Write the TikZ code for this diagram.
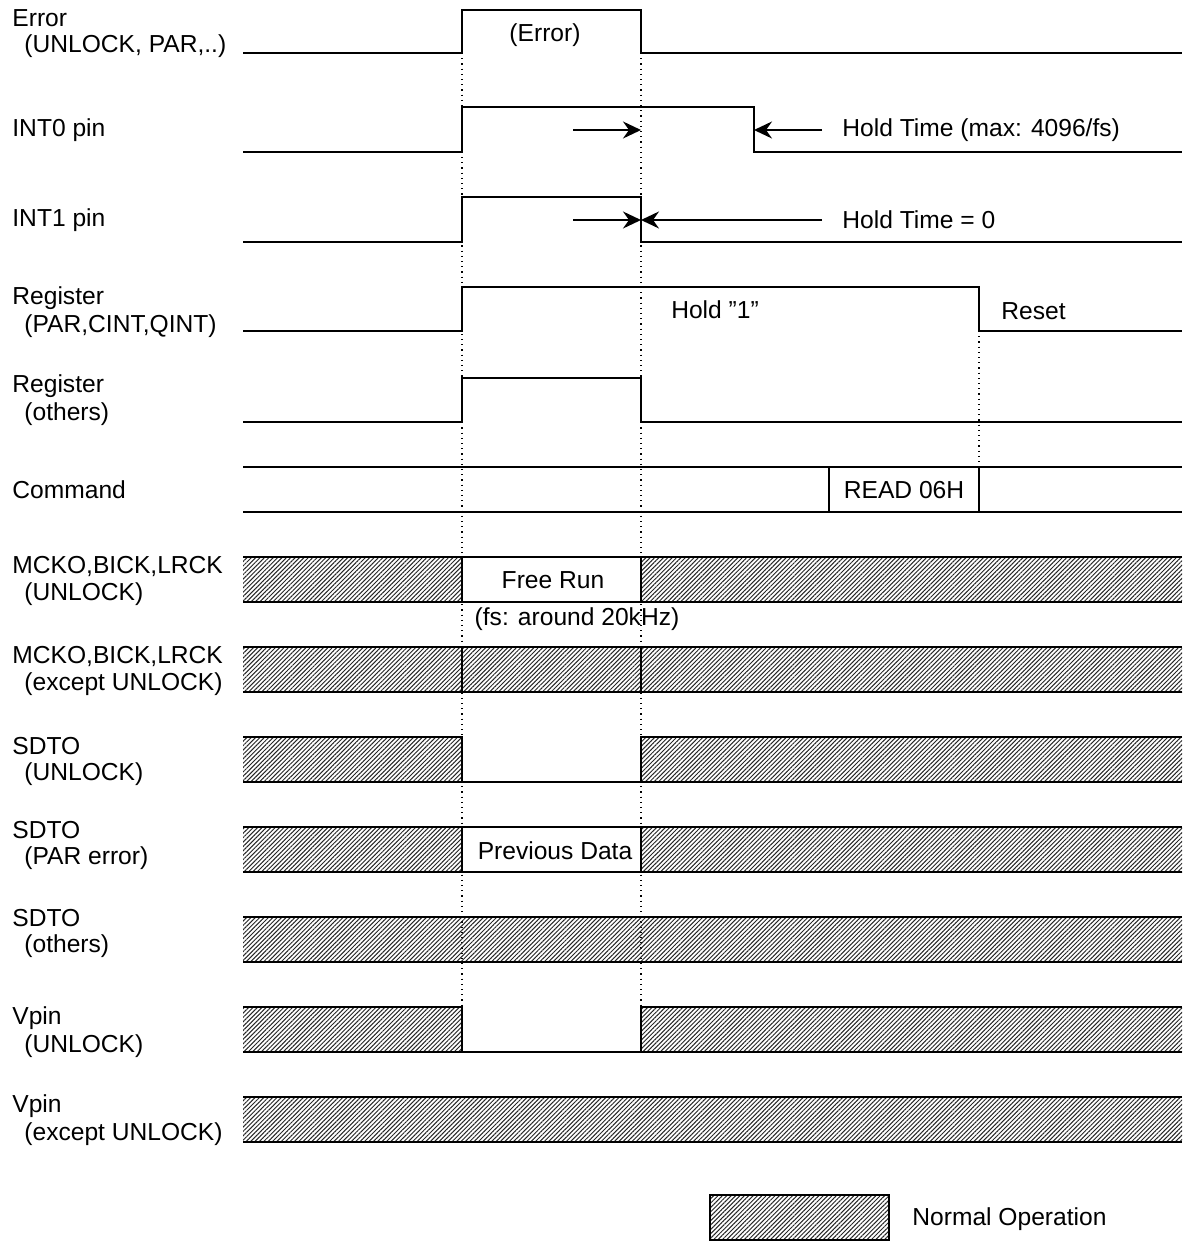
\documentclass[tikz,border=0pt]{standalone}
\usepackage{fontspec}
\setmainfont{Liberation Sans}
\usetikzlibrary{patterns.meta,arrows.meta}
\begin{document}
\begin{tikzpicture}[x=0.5pt,y=-0.5pt,
 sig/.style={line width=1pt},
 hatch/.style={pattern={Lines[angle=45,distance=1.55pt,line width=0.5pt]},pattern color=black!85},
 guide/.style={dotted, line width=0.6pt},
 lbl/.style={anchor=west, inner sep=0pt, font=\fontsize{12.3}{14}\selectfont},
 txt/.style={inner sep=0pt, font=\fontsize{12.3}{14}\selectfont},
 dimarrow/.style={line width=0.9pt, -{Stealth[length=9pt,width=8.5pt,inset=3pt]}}]
\useasboundingbox (0,0) rectangle (1188,1243);

% guide lines
\draw[guide] (462,53) -- (462,1007);
\draw[guide] (641,53) -- (641,1007);
\draw[guide] (979,331) -- (979,467);

% labels
\node[lbl] (l1a) at (12,18) {Error};
\node[lbl] (l1b) at (24,46) {(UNLOCK, PAR,..)};
\node[lbl] (l2) at (12,130) {INT0 pin};
\node[lbl] (l3) at (12,220) {INT1 pin};
\node[lbl] (l4a) at (12,298) {Register};
\node[lbl] (l4b) at (24,326) {(PAR,CINT,QINT)};
\node[lbl] (l5a) at (12,386) {Register};
\node[lbl] (l5b) at (24,414) {(others)};
\node[lbl] (l6) at (12,490) {Command};
\node[lbl] (l7a) at (12,566) {MCKO,BICK,LRCK};
\node[lbl] (l7b) at (24,594) {(UNLOCK)};
\node[lbl] (l8a) at (12,656) {MCKO,BICK,LRCK};
\node[lbl] (l8b) at (24,684) {(except UNLOCK)};
\node[lbl] (l9a) at (12,746) {SDTO};
\node[lbl] (l9b) at (24,774) {(UNLOCK)};
\node[lbl] (l10a) at (12,830) {SDTO};
\node[lbl] (l10b) at (24,858) {(PAR error)};
\node[lbl] (l11a) at (12,918) {SDTO};
\node[lbl] (l11b) at (24,946) {(others)};
\node[lbl] (l12a) at (12,1018) {Vpin};
\node[lbl] (l12b) at (24,1046) {(UNLOCK)};
\node[lbl] (l13a) at (12,1106) {Vpin};
\node[lbl] (l13b) at (24,1134) {(except UNLOCK)};

% Error
\draw[sig] (243,53) -- (462,53) -- (462,10) -- (641,10) -- (641,53) -- (1182,53);
\node[txt] (err) at (545,35) {(Error)};
% INT0
\draw[sig] (243,152) -- (462,152) -- (462,107) -- (754,107) -- (754,152) -- (1182,152);
% INT1
\draw[sig] (243,242) -- (462,242) -- (462,197) -- (641,197) -- (641,242) -- (1182,242);
% Register PAR
\draw[sig] (243,331) -- (462,331) -- (462,287) -- (979,287) -- (979,331) -- (1182,331);
\node[txt] (hold1) at (715,310) {Hold ”1”};
\node[txt,anchor=west] (reset) at (1001,311) {Reset};
% Register others
\draw[sig] (243,422) -- (462,422) -- (462,378) -- (641,378) -- (641,422) -- (1182,422);

% Hold time arrows
\coordinate (a1s) at (573,130); \coordinate (a1e) at (641,130);
\coordinate (a2s) at (822,130); \coordinate (a2e) at (754,130);
\coordinate (a3s) at (573,220); \coordinate (a3e) at (641,220);
\coordinate (a4s) at (822,220); \coordinate (a4e) at (641,220);
\draw[dimarrow] (a1s) -- (a1e);
\draw[dimarrow] (a2s) -- (a2e);
\draw[dimarrow] (a3s) -- (a3e);
\draw[dimarrow] (a4s) -- (a4e);
\node[txt,anchor=west] (ht1) at (842,130) {Hold Time (max: 4096/fs)};
\node[txt,anchor=west] (ht2) at (842,220) {Hold Time = 0};

% Command
\draw[sig] (243,467) -- (1182,467);
\draw[sig] (243,512) -- (1182,512);
\draw[sig] (829,467) rectangle (979,512);
\node[txt] (rd) at (904,490) {READ 06H};

% MCKO (UNLOCK)
\fill[hatch] (243,557) rectangle (462,602);
\fill[hatch] (641,557) rectangle (1182,602);
\draw[sig] (243,557) -- (1182,557);
\draw[sig] (243,602) -- (1182,602);
\draw[sig] (462,557) -- (462,602);
\draw[sig] (641,557) -- (641,602);
\node[txt] (fr) at (553,580) {Free Run};
\node[txt] (fs) at (577,619) {(fs: around 20kHz)};

% MCKO (except UNLOCK)
\fill[hatch] (243,647) rectangle (1182,692);
\draw[sig] (243,647) -- (1182,647);
\draw[sig] (243,692) -- (1182,692);
\draw[sig] (462,647) -- (462,692);
\draw[sig] (641,647) -- (641,692);

% SDTO (UNLOCK)
\fill[hatch] (243,737) rectangle (462,782);
\fill[hatch] (641,737) rectangle (1182,782);
\draw[sig] (243,737) -- (462,737) -- (462,782);
\draw[sig] (1182,737) -- (641,737) -- (641,782);
\draw[sig] (243,782) -- (1182,782);

% SDTO (PAR error)
\fill[hatch] (243,827) rectangle (462,872);
\fill[hatch] (641,827) rectangle (1182,872);
\draw[sig] (243,827) -- (1182,827);
\draw[sig] (243,872) -- (1182,872);
\draw[sig] (462,827) -- (462,872);
\draw[sig] (641,827) -- (641,872);
\node[txt] (pd) at (555,851) {Previous Data};

% SDTO (others)
\fill[hatch] (243,917) rectangle (1182,962);
\draw[sig] (243,917) -- (1182,917);
\draw[sig] (243,962) -- (1182,962);

% Vpin (UNLOCK)
\fill[hatch] (243,1007) rectangle (462,1052);
\fill[hatch] (641,1007) rectangle (1182,1052);
\draw[sig] (243,1007) -- (462,1007) -- (462,1052);
\draw[sig] (1182,1007) -- (641,1007) -- (641,1052);
\draw[sig] (243,1052) -- (1182,1052);

% Vpin (except UNLOCK)
\fill[hatch] (243,1097) rectangle (1182,1142);
\draw[sig] (243,1097) -- (1182,1097);
\draw[sig] (243,1142) -- (1182,1142);

% legend
\fill[hatch] (710,1195) rectangle (889,1240);
\draw[sig] (710,1195) rectangle (889,1240);
\node[txt,anchor=west] (leg) at (912,1219) {Normal Operation};
\end{tikzpicture}
\end{document}
